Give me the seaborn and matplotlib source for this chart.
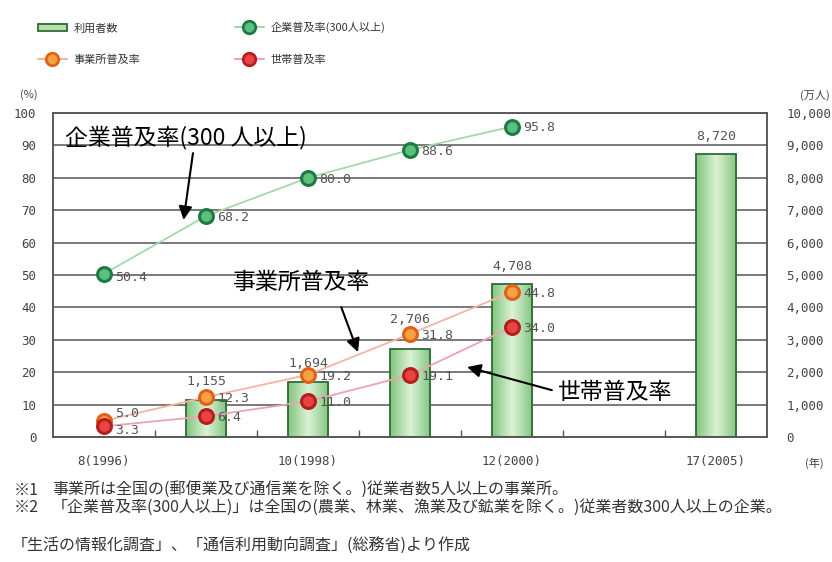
import numpy as np
import pandas as pd
import matplotlib
matplotlib.use('Agg')
import matplotlib.pyplot as plt
import seaborn as sns
from matplotlib.colors import LinearSegmentedColormap
from matplotlib.lines import Line2D
from matplotlib.patches import Patch

# slots on the x axis (2001-2004 left empty)
slot_years = [1996, 1997, 1998, 1999, 2000, None, 2005]
tick_years = [1996, 1998, 2000, 2005]
tick_labels = ['8(1996)', '10(1998)', '12(2000)', '17(2005)']

user_years = [1997, 1998, 1999, 2000, 2005]
users = [1155, 1694, 2706, 4708, 8720]
user_labels = ['1,155', '1,694', '2,706', '4,708', '8,720']

rate_years = [1996, 1997, 1998, 1999, 2000]
corp_rate = [50.4, 68.2, 80.0, 88.6, 95.8]
office_rate = [5.0, 12.3, 19.2, 31.8, 44.8]
house_rate = [3.3, 6.4, 11.0, 19.1, 34.0]

W, H = 832, 562


def fx(x):
    return x / W


def fy(y):
    return 1 - y / H


def pos(year):
    return slot_years.index(year)


sns.set_theme(style='white')
plt.rcParams['font.family'] = ['Noto Sans CJK JP', 'DejaVu Sans']

fig = plt.figure(figsize=(W / 100, H / 100), dpi=100)
ax = fig.add_axes([fx(53), fy(437), fx(767) - fx(53), fy(113) - fy(437)])
ax2 = ax.twinx()

# bars (right axis, 万人)
df_users = pd.DataFrame({'pos': [pos(y) for y in user_years], 'users': users})
sns.barplot(data=df_users, x='pos', y='users', native_scale=True, width=0.4,
            color='#b5e0ab', edgecolor='#2f6b35', linewidth=1.3,
            errorbar=None, ax=ax2, zorder=2)

cmap = LinearSegmentedColormap.from_list('bar', ['#82c67f', '#dcf2d6', '#82c67f'])
grad = np.linspace(0, 1, 64)[None, :]
for p in list(ax2.patches):
    x0, y0, w, h = p.get_x(), p.get_y(), p.get_width(), p.get_height()
    im = ax2.imshow(grad, cmap=cmap, extent=[x0, x0 + w, y0, y0 + h],
                    aspect='auto', zorder=2.1, interpolation='bicubic')
    im.set_clip_path(p)
    p.set_facecolor('none')
    p.set_zorder(2.2)

# label lift above the bar top, in points (the original nudges 2,706 up)
lifts = [8, 9, 17, 8, 8]
for yr, v, lab, lift in zip(user_years, users, user_labels, lifts):
    ax2.annotate(lab, (pos(yr), v), xytext=(0, lift), textcoords='offset points',
                 ha='center', va='bottom', fontsize=9.5, color='#555555',
                 family='DejaVu Sans Mono')

ax2.set_ylim(0, 10000)
ax2.set_yticks(range(0, 10001, 1000))
ax2.set_yticklabels(['0'] + [f'{v:,}' for v in range(1000, 10001, 1000)])
ax2.grid(axis='y', color='#555555', linewidth=1.1)
ax2.grid(axis='x', visible=False)
ax2.set_axisbelow(True)
ax2.set_ylabel('')
ax2.set_xlabel('')

# lines (left axis, %)
series = [
    (corp_rate, '#a3d9aa', '#5dbf7c', '#1e7a45'),
    (office_rate, '#f2b6a0', '#f6a244', '#df6218'),
    (house_rate, '#eca2b4', '#e84444', '#b61d1d'),
]
for vals, lc, mf, me in series:
    d = pd.DataFrame({'pos': [pos(y) for y in rate_years], 'rate': vals})
    sns.lineplot(data=d, x='pos', y='rate', ax=ax, color=lc, linewidth=1.3,
                 marker='o', markersize=10, markerfacecolor=mf,
                 markeredgecolor=me, markeredgewidth=2.2, zorder=5)
    for yr, v in zip(rate_years, vals):
        dy = 0
        if yr == 1996:
            dy = 6 if vals is office_rate else -2
        ax.annotate(f'{v:.1f}', (pos(yr), v), xytext=(8, dy - 1),
                    textcoords='offset points', ha='left', va='center',
                    fontsize=9.5, color='#555555', family='DejaVu Sans Mono',
                    zorder=6)

ax.set_zorder(ax2.get_zorder() + 1)
ax.patch.set_visible(False)
ax.set_ylim(0, 100)
ax.set_yticks(range(0, 101, 10))
ax.set_xlim(-0.5, len(slot_years) - 0.5)
ax.set_xticks([pos(y) for y in tick_years])
ax.set_xticklabels(tick_labels)
ax.set_xticks([i + 0.5 for i in range(len(slot_years) - 1)], minor=True)
ax.set_xlabel('')
ax.set_ylabel('')
ax.grid(False)

for a in (ax, ax2):
    for s in a.spines.values():
        s.set_color('#555555')
        s.set_linewidth(1.1)
ax.tick_params(axis='y', length=0, pad=12, labelsize=9, labelcolor='#444444')
ax2.tick_params(axis='y', length=0, pad=14, labelsize=9, labelcolor='#444444')
ax.tick_params(axis='x', which='major', length=0, pad=13, labelsize=9,
               labelcolor='#444444')
ax.tick_params(axis='x', which='minor', direction='in', length=5, width=1,
               color='#555555', bottom=True)
for lab in ax.get_yticklabels() + ax2.get_yticklabels() + ax.get_xticklabels():
    lab.set_family('DejaVu Sans Mono')

# callouts
arrow = dict(arrowstyle='-|>', color='black', lw=1.5, mutation_scale=20, shrinkB=0)
ax.annotate('企業普及率(300 人以上)', xy=(0.78, 67), xytext=(-0.38, 92.3),
            ha='left', va='center', fontsize=16.5, color='black', zorder=8,
            arrowprops=dict(arrow, shrinkA=0, relpos=(0.53, 0)))
ax.annotate('事業所普及率', xy=(2.49, 26.2), xytext=(1.94, 47.8),
            ha='center', va='center', fontsize=16.5, color='black', zorder=8,
            arrowprops=dict(arrow, shrinkA=8, relpos=(0.75, 0)))
ax.annotate('世帯普及率', xy=(3.56, 21.6), xytext=(5.01, 13.6),
            ha='center', va='center', fontsize=16.5, color='black', zorder=8,
            arrowprops=dict(arrow, shrinkA=2, relpos=(0, 0.55)))

# unit labels
fig.text(fx(20), fy(95), '(%)', fontsize=8, color='#444444', va='center')
fig.text(fx(800), fy(95), '(万人)', fontsize=8, color='#444444', va='center')
fig.text(fx(805), fy(463), '(年)', fontsize=8, color='#444444', va='center')

# legend
handles = [
    Patch(facecolor='#b5e0ab', edgecolor='#2f6b35', linewidth=1.3),
    Line2D([], [], color='#f2b6a0', marker='o', markersize=9,
           markerfacecolor='#f6a244', markeredgecolor='#df6218', markeredgewidth=2),
    Line2D([], [], color='#a3d9aa', marker='o', markersize=9,
           markerfacecolor='#5dbf7c', markeredgecolor='#1e7a45', markeredgewidth=2),
    Line2D([], [], color='#eca2b4', marker='o', markersize=9,
           markerfacecolor='#e84444', markeredgecolor='#b61d1d', markeredgewidth=2),
]
labels = ['利用者数', '事業所普及率', '企業普及率(300人以上)', '世帯普及率']
fig.legend(handles, labels, loc='upper left', bbox_to_anchor=(fx(28), fy(12)),
           ncol=2, frameon=False, fontsize=8, handlelength=2.6,
           handletextpad=0.6, columnspacing=8.5, labelspacing=1.9,
           labelcolor='#333333')

# notes
notes = [
    (490, '※1', '事業所は全国の(郵便業及び通信業を除く。)従業者数5人以上の事業所。'),
    (507, '※2', '「企業普及率(300人以上)」は全国の(農業、林業、漁業及び鉱業を除く。)従業者数300人以上の企業。'),
]
for y, mark, txt in notes:
    fig.text(fx(14), fy(y), mark, fontsize=11.5, color='#333333', va='center')
    fig.text(fx(52), fy(y), txt, fontsize=11.5, color='#333333', va='center')
fig.text(fx(12), fy(546), '「生活の情報化調査」、「通信利用動向調査」(総務省)より作成',
         fontsize=11.5, color='#333333', va='center')

fig.savefig('out.png', dpi=100)
